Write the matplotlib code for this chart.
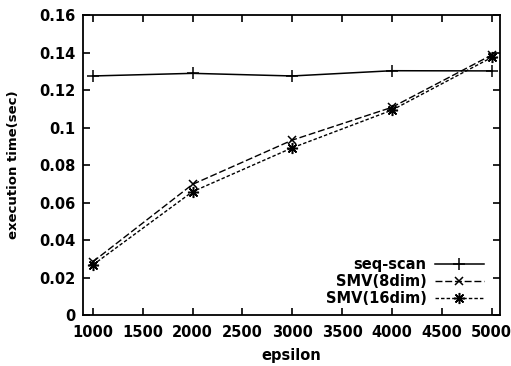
import numpy as np
import matplotlib
matplotlib.use("Agg")
import matplotlib.pyplot as plt

eps = [1000, 2000, 3000, 4000, 5000]
seq_scan = [0.1275, 0.1289, 0.1275, 0.1303, 0.1302]
smv_8dim = [0.0284, 0.0697, 0.0933, 0.1108, 0.1387]
smv_16dim = [0.0267, 0.0658, 0.0892, 0.1093, 0.1374]

xticks = [1000, 1500, 2000, 2500, 3000, 3500, 4000, 4500, 5000]
yticks = [0, 0.02, 0.04, 0.06, 0.08, 0.1, 0.12, 0.14, 0.16]

plt.rcParams['font.family'] = ['DejaVu Sans']
plt.rcParams['font.weight'] = 'bold'

fig = plt.figure(figsize=(5.11, 3.66), dpi=100)
ax = fig.add_axes([0.162, 0.139, 0.816, 0.82])

ax.plot(eps, seq_scan, color='black', lw=1.1, ls='-', marker='+', ms=8, mew=1.1, label='seq-scan')
ax.plot(eps, smv_8dim, color='black', lw=1.0, ls=(0, (5, 2)), marker='x', ms=6, mew=1.1, label='SMV(8dim)')
ax.plot(eps, smv_16dim, color='black', lw=1.0, ls=(0, (2.5, 1.5)), marker=(8, 2, 0), ms=8, mew=1.1, label='SMV(16dim)')

ax.set_xlim(900, 5080)
ax.set_ylim(0, 0.16)
ax.set_xticks(xticks)
ax.set_xticklabels([str(t) for t in xticks])
ax.set_yticks(yticks)
ax.set_yticklabels(['%g' % t for t in yticks])
ax.tick_params(direction='in', length=5, width=1.2, top=True, right=True, labelsize=10.5)
ax.tick_params(axis='x', pad=7)
ax.tick_params(axis='y', pad=5)
for s in ax.spines.values():
    s.set_linewidth(1.3)

ax.set_xlabel('epsilon', fontsize=10.5, fontweight='bold', labelpad=6)
ax.set_ylabel('execution time(sec)', fontsize=9.5, fontweight='bold', labelpad=14)

ax.legend(loc='lower right', bbox_to_anchor=(0.975, 0.01), frameon=False, markerfirst=False,
          fontsize=10.5, handlelength=3.3, handletextpad=0.6, labelspacing=0.15,
          borderaxespad=0.0)

fig.savefig('out.png', dpi=100)
